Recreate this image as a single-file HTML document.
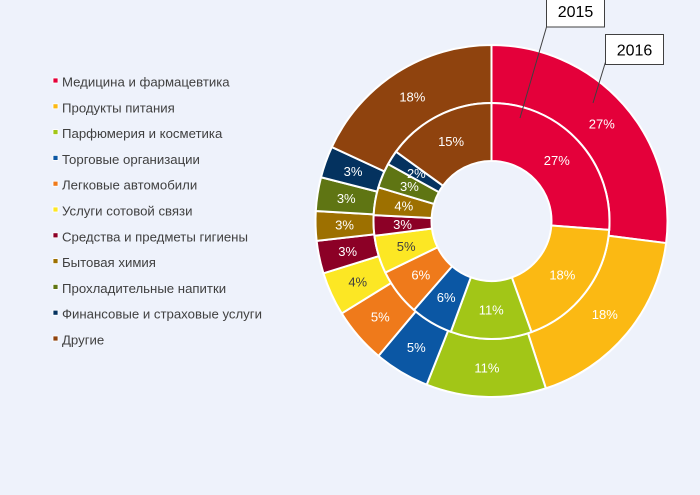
<!DOCTYPE html>
<html><head><meta charset="utf-8"><style>
html,body{margin:0;padding:0;background:#eef2fb;}
svg{display:block;font-family:"Liberation Sans",sans-serif;}
</style></head><body>
<svg id="c" width="700" height="495">
<rect width="700" height="495" fill="#eef2fb"/>
</svg>
<script>
const categories=["Медицина и фармацевтика","Продукты питания","Парфюмерия и косметика","Торговые организации","Легковые автомобили","Услуги сотовой связи","Средства и предметы гигиены","Бытовая химия","Прохладительные напитки","Финансовые и страховые услуги","Другие"];
const values2016=[27,18,11,5.1,5.1,4,3,2.7,3.1,2.9,18.1];
const values2015=[26.2,18.3,11.1,5.8,6.4,5.2,2.8,3.8,3.4,2.0,15];
const labels2016=["27%","18%","11%","5%","5%","4%","3%","3%","3%","3%","18%"];
const labels2015=["27%","18%","11%","6%","6%","5%","3%","4%","3%","2%","15%"];
const colors=["#e4003a","#fbb913","#a2c617","#0b57a4","#ef7a1b","#fce724","#8c0026","#9d7000","#5f7513","#04325f","#8f430e"];
const NS="http://www.w3.org/2000/svg";
const svg=document.getElementById('c');
const cx=491.5,cy=221,r0=60,r1=118,r2=176;
function mk(t,a){const e=document.createElementNS(NS,t);for(const k in a)e.setAttribute(k,a[k]);svg.appendChild(e);return e;}
function pt(r,a){return [cx+r*Math.sin(a),cy-r*Math.cos(a)];}
function ring(vals,labs,ri,ro,yr){
  const tot=vals.reduce((s,v)=>s+v,0);let acc=0;
  vals.forEach((v,i)=>{
    const a0=acc/tot*2*Math.PI;acc+=v;const a1=acc/tot*2*Math.PI;
    const L=(a1-a0)>Math.PI?1:0;
    const p1=pt(ro,a0),p2=pt(ro,a1),p3=pt(ri,a1),p4=pt(ri,a0);
    const d=`M${p1}A${ro},${ro} 0 ${L} 1 ${p2}L${p3}A${ri},${ri} 0 ${L} 0 ${p4}Z`;
    const p=mk('path',{d:d,fill:colors[i],stroke:'#fff','stroke-width':2});
    
    
    const m=pt((ri+ro)/2,(a0+a1)/2);
    const t=mk('text',{x:m[0],y:m[1]+4.5,'text-anchor':'middle','font-size':13,fill:i==5?'#404040':'#fff'});
    t.textContent=labs[i];
    
    
  });
}
ring(values2016,labels2016,r1,r2,'2016');
ring(values2015,labels2015,r0,r1,'2015');
categories.forEach((c,i)=>{
  const y=82+i*25.8;
  const s=mk('rect',{x:53,y:y-4,width:5,height:5,fill:colors[i],stroke:'#fff','stroke-width':0.8});
  
  
  const t=mk('text',{x:62,y:y+4.5,'font-size':13.2,fill:'#404040'});
  t.textContent=c;
  
  
});
function callout(x,y,w,h,lx1,ly1,lx2,ly2,txt,nm){
  const l=mk('line',{x1:lx1,y1:ly1,x2:lx2,y2:ly2,stroke:'#404040','stroke-width':1});
  
  
  const r=mk('rect',{x:x,y:y,width:w,height:h,fill:'#fff',stroke:'#404040','stroke-width':1});
  
  
  const t=mk('text',{x:x+w/2,y:y+h/2+6,'text-anchor':'middle','font-size':16,fill:'#000'});
  t.textContent=txt;
  
  
}
callout(546.5,-5,58,32,546.5,27,520,118,'2015','callout-2015');
callout(605.5,34.5,58,30,605.5,62,593,103,'2016','callout-2016');
</script>
</body></html>
